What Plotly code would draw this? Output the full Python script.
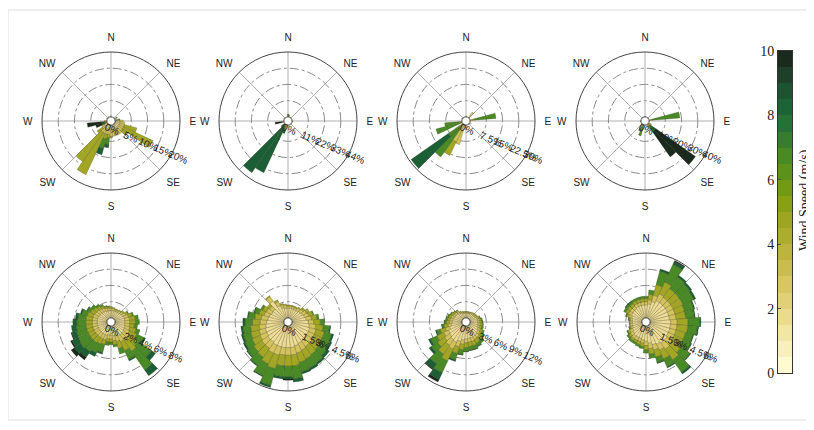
import plotly.graph_objects as go

W, H = 814, 430
OFF = 8  # page body margin of the browser

# ---------------- data ----------------
SPEED_CLASSES = ["0-2", "2-3.5", "3.5-5", "5-7", "7-9", "9-10"]
CLASS_COLORS = ["#EDDB96", "#D4C35C", "#A2A624", "#4A8A26", "#1C5E36", "#1A2A1C"]

COMPASS_DIRS = [0, 45, 90, 135, 180, 225, 270, 315]
COMPASS_LABELS = ["N", "NE", "E", "SE", "S", "SW", "W", "NW"]

DIRS36 = list(range(0, 360, 10))

# top row (sparse directions)
P1_DIRS = [0, 60, 80, 90, 100, 110, 120, 130, 140, 150, 160, 170, 180, 190, 200, 210, 220, 230, 240, 250, 260, 270, 300, 330]
P1_FREQ = [
    [0.4, 0, 0, 0, 0, 0], [0.3, 0, 0, 0.6, 0, 0], [0.3, 0, 0, 1.2, 0, 0], [1.5, 1.0, 0, 0, 0, 0],
    [1.5, 1.5, 0, 0, 0, 0], [1.5, 1.5, 4.0, 0, 0, 0], [1.5, 1.5, 10.0, 0, 0, 0], [1.5, 1.5, 2.0, 0, 0, 0],
    [1.5, 2.0, 0, 0, 0, 0], [1.5, 2.0, 0, 0, 0, 0], [1.5, 2.0, 0, 0, 0, 0], [1.5, 2.0, 0, 0, 0, 0],
    [1.5, 2.0, 0.5, 0, 0, 0], [1.5, 1.5, 1.0, 2.0, 1.0, 0], [1.5, 1.5, 1.5, 3.0, 2.0, 0], [1.5, 1.5, 14.0, 0, 0, 0],
    [1.5, 1.5, 11.0, 0, 0, 0], [1.0, 1.0, 2.0, 0, 0, 0], [1.0, 1.0, 0, 0, 0, 0], [0.3, 0.3, 0, 0, 1.0, 2.0],
    [0.3, 0.3, 0, 0, 1.0, 4.5], [0.5, 0.3, 0, 0, 0, 0], [0.4, 0, 0, 0, 0, 0], [0.4, 0, 0, 0, 0, 0],
]

P2_DIRS = [0, 10, 90, 180, 200, 210, 220, 230, 260, 300]
P2_FREQ = [
    [0.5, 0, 0, 1.5, 0, 0], [0.5, 0, 0, 1.0, 0, 0], [0.5, 0, 0, 0, 0, 0], [0.8, 0, 0, 0, 0, 0],
    [1.0, 1.0, 1.0, 1.0, 2.0, 0], [0.5, 0.5, 0.5, 0.5, 34.0, 0], [0.5, 0.5, 0.5, 0.5, 38.0, 0],
    [0.5, 0.5, 0, 0, 2.0, 0], [0.5, 0.5, 0, 0, 0, 5.0], [0.5, 0, 0, 0, 0, 0],
]

P3_DIRS = [0, 40, 80, 120, 180, 200, 210, 220, 230, 250, 260, 300]
P3_FREQ = [
    [0.5, 0, 0, 0, 0, 0], [0.5, 2.5, 0, 0, 0, 0], [0.5, 0.5, 1.0, 10.0, 0, 0], [0.8, 0, 0, 0, 0, 0],
    [1.0, 1.0, 0, 0, 0, 0], [3.0, 6.4, 0, 0, 0, 0], [0.7, 8.0, 7.0, 0, 0, 0], [0.7, 0.7, 1.0, 16.0, 0, 0],
    [0.7, 0.7, 0.7, 6.0, 21.0, 0], [0.5, 0.5, 0.5, 11.0, 0, 0], [0.5, 0.5, 0.5, 6.5, 0, 0], [0.5, 0, 0, 0, 0, 0],
]

P4_DIRS = [0, 80, 120, 130, 140, 150, 200, 210, 270]
P4_FREQ = [
    [0.5, 0, 0, 0, 0, 0], [0.5, 0.5, 1.0, 17.0, 0, 0], [1.0, 1.0, 0, 0, 0, 0],
    [0.5, 0.5, 0.5, 1.0, 3.0, 30.0], [0.5, 0.5, 0.5, 1.0, 3.0, 19.0], [1.0, 2.0, 0, 0, 0, 0],
    [0.5, 0.5, 0.5, 5.5, 0, 0], [0.5, 0.5, 0.5, 3.0, 0, 0], [0.5, 0, 0, 0, 0, 0],
]

# bottom row (36 directions, 10 degree bins)
P5_FREQ = [
    [0.9, 0.3, 0.2, 0, 0, 0], [0.9, 0.3, 0.1, 0, 0, 0], [0.9, 0.2, 0.1, 0, 0, 0], [0.9, 0.2, 0.1, 0, 0, 0],
    [0.9, 0.3, 0.1, 0, 0, 0], [1.0, 0.3, 0.2, 0, 0, 0], [1.1, 0.4, 0.3, 0.1, 0, 0], [1.2, 0.5, 0.5, 0.2, 0, 0],
    [1.2, 0.6, 0.7, 0.4, 0, 0], [1.2, 0.6, 0.7, 0.5, 0, 0], [1.2, 0.6, 0.6, 0.4, 0, 0], [1.3, 0.6, 0.8, 0.5, 0, 0],
    [1.3, 0.7, 1.0, 1.0, 0.2, 0], [1.4, 0.8, 1.4, 2.0, 0.6, 0], [1.4, 0.9, 1.6, 2.8, 0.9, 0], [1.4, 0.8, 1.2, 1.2, 0.2, 0],
    [1.3, 0.7, 0.9, 0.7, 0, 0], [1.2, 0.6, 0.5, 0.3, 0, 0], [1.1, 0.5, 0.4, 0.3, 0, 0], [1.1, 0.5, 0.4, 0.4, 0, 0],
    [1.2, 0.6, 0.6, 1.0, 0.2, 0], [1.2, 0.6, 0.7, 1.2, 0.5, 0], [1.2, 0.6, 0.8, 1.4, 0.8, 0.4], [1.2, 0.6, 0.8, 1.5, 0.9, 0.5],
    [1.2, 0.6, 0.8, 1.4, 0.8, 0.2], [1.2, 0.6, 0.8, 1.3, 0.6, 0.1], [1.2, 0.6, 0.8, 1.2, 0.6, 0], [1.2, 0.6, 0.8, 1.1, 0.5, 0],
    [1.2, 0.6, 0.8, 1.0, 0.3, 0], [1.2, 0.6, 0.7, 0.7, 0.2, 0], [1.1, 0.6, 0.6, 0.4, 0.1, 0], [1.1, 0.5, 0.5, 0.4, 0, 0],
    [1.0, 0.5, 0.4, 0.3, 0, 0], [1.0, 0.4, 0.3, 0.2, 0, 0], [0.9, 0.4, 0.2, 0.1, 0, 0], [0.9, 0.3, 0.2, 0.1, 0, 0],
]

P6_FREQ = [
    [0.9, 0.2, 0.1, 0, 0, 0], [0.9, 0.2, 0.1, 0, 0, 0], [0.9, 0.2, 0.1, 0, 0, 0], [0.9, 0.2, 0.1, 0, 0, 0],
    [0.9, 0.3, 0.1, 0, 0, 0], [1.0, 0.3, 0.2, 0, 0, 0], [1.1, 0.4, 0.3, 0, 0, 0], [1.2, 0.4, 0.4, 0.1, 0, 0],
    [1.3, 0.5, 0.5, 0.2, 0, 0], [1.5, 0.5, 0.6, 0.4, 0, 0], [1.6, 0.6, 0.7, 0.6, 0.1, 0], [1.7, 0.6, 0.8, 0.7, 0.2, 0],
    [1.7, 0.6, 0.8, 0.8, 0.2, 0], [1.8, 0.6, 0.8, 0.8, 0.3, 0], [1.8, 0.6, 0.9, 0.9, 0.2, 0], [1.8, 0.7, 0.9, 0.9, 0.2, 0],
    [1.9, 0.7, 0.9, 0.9, 0.2, 0], [2.0, 0.7, 1.0, 1.2, 0.3, 0], [2.0, 0.7, 1.0, 1.0, 0.2, 0.1], [2.0, 0.7, 1.0, 1.0, 0.2, 0],
    [2.0, 0.8, 1.3, 1.6, 0.2, 0], [2.0, 0.8, 1.1, 1.2, 0.1, 0], [1.9, 0.7, 1.0, 0.9, 0.1, 0], [1.9, 0.7, 0.9, 0.7, 0.1, 0],
    [1.8, 0.7, 0.8, 0.7, 0.2, 0], [1.8, 0.6, 0.8, 0.7, 0.2, 0], [1.7, 0.6, 0.8, 0.7, 0.2, 0], [1.6, 0.6, 0.7, 0.7, 0.2, 0],
    [1.5, 0.6, 0.6, 0.6, 0.1, 0], [1.4, 0.5, 0.5, 0.4, 0.1, 0], [1.3, 0.5, 0.4, 0.2, 0, 0], [1.3, 0.4, 0.3, 0, 0, 0],
    [2.0, 0.5, 0.1, 0, 0, 0], [1.3, 0.4, 0.2, 0, 0, 0], [1.0, 0.3, 0.1, 0, 0, 0], [0.9, 0.3, 0.1, 0, 0, 0],
]

P7_FREQ = [
    [0.9, 0.2, 0.1, 0, 0, 0], [0.9, 0.2, 0.1, 0, 0, 0], [0.9, 0.2, 0.1, 0, 0, 0], [1.0, 0.2, 0.1, 0, 0, 0],
    [1.0, 0.3, 0.1, 0, 0, 0], [1.0, 0.3, 0.2, 0, 0, 0], [1.1, 0.3, 0.2, 0, 0, 0], [1.3, 0.3, 0.3, 0.1, 0, 0],
    [1.4, 0.4, 0.3, 0.2, 0, 0], [1.4, 0.4, 0.4, 0.2, 0, 0], [1.5, 0.4, 0.4, 0.2, 0, 0], [1.5, 0.4, 0.4, 0.3, 0, 0],
    [1.7, 0.5, 0.5, 0.3, 0, 0], [1.9, 0.5, 0.6, 0.4, 0, 0], [2.1, 0.6, 0.7, 0.5, 0.1, 0], [2.2, 0.6, 0.8, 0.6, 0.1, 0],
    [2.3, 0.7, 0.8, 0.7, 0.1, 0], [2.3, 0.7, 0.8, 0.7, 0.1, 0], [2.4, 0.7, 0.9, 0.7, 0.1, 0], [2.6, 0.8, 1.0, 0.9, 0.1, 0],
    [3.0, 1.0, 1.3, 1.2, 0.3, 0], [3.4, 1.4, 2.4, 2.4, 1.4, 0.5], [3.2, 1.3, 2.0, 2.2, 1.1, 0.2], [3.0, 1.1, 1.6, 1.4, 0.5, 0],
    [2.8, 1.0, 1.4, 1.3, 0.4, 0], [2.4, 0.8, 1.0, 0.7, 0.2, 0], [2.0, 0.6, 0.7, 0.4, 0.1, 0], [1.8, 0.5, 0.6, 0.3, 0.1, 0],
    [1.7, 0.5, 0.5, 0.3, 0, 0], [1.6, 0.5, 0.4, 0.3, 0, 0], [1.5, 0.4, 0.4, 0.2, 0, 0], [1.4, 0.4, 0.3, 0.1, 0, 0],
    [1.3, 0.3, 0.3, 0.1, 0, 0], [1.1, 0.2, 0.2, 0, 0, 0], [1.0, 0.2, 0.1, 0, 0, 0], [0.9, 0.2, 0.1, 0, 0, 0],
]

P8_FREQ = [
    [1.2, 0.3, 0.3, 0.2, 0, 0], [1.3, 0.4, 0.5, 0.4, 0, 0], [1.6, 0.6, 1.0, 1.3, 0.2, 0], [1.8, 0.7, 1.2, 1.8, 0.3, 0.1],
    [1.8, 0.6, 1.0, 1.3, 0.2, 0], [1.8, 0.6, 1.0, 1.2, 0.2, 0], [1.8, 0.6, 1.0, 1.1, 0.2, 0], [1.8, 0.6, 0.9, 0.9, 0.1, 0],
    [1.8, 0.6, 0.9, 0.8, 0.1, 0], [1.9, 0.6, 1.0, 1.1, 0.1, 0], [1.9, 0.6, 1.0, 0.9, 0.1, 0], [1.9, 0.6, 0.9, 0.7, 0.1, 0],
    [1.9, 0.6, 0.9, 0.8, 0.1, 0], [2.0, 0.6, 1.0, 1.0, 0.1, 0], [2.0, 0.7, 1.2, 1.4, 0.2, 0], [1.9, 0.6, 0.9, 0.8, 0.1, 0],
    [1.8, 0.5, 0.7, 0.5, 0.1, 0], [1.6, 0.5, 0.5, 0.4, 0, 0], [1.4, 0.4, 0.4, 0.3, 0, 0], [1.3, 0.3, 0.3, 0.2, 0, 0],
    [1.2, 0.3, 0.3, 0.2, 0, 0], [1.2, 0.3, 0.2, 0.2, 0, 0], [1.2, 0.3, 0.2, 0.2, 0, 0], [1.1, 0.3, 0.2, 0.2, 0, 0],
    [1.0, 0.3, 0.2, 0.1, 0, 0], [0.9, 0.2, 0.1, 0.1, 0, 0], [0.9, 0.2, 0.1, 0, 0, 0], [0.9, 0.2, 0.1, 0, 0, 0],
    [0.9, 0.2, 0.1, 0.1, 0, 0], [1.0, 0.3, 0.2, 0.1, 0, 0], [1.1, 0.3, 0.3, 0.2, 0, 0], [1.1, 0.3, 0.3, 0.2, 0.1, 0],
    [1.1, 0.3, 0.3, 0.2, 0.1, 0], [1.2, 0.3, 0.3, 0.2, 0, 0], [1.2, 0.3, 0.3, 0.2, 0, 0], [1.2, 0.3, 0.3, 0.2, 0, 0],
]

RADIAL_TICKS = [
    [0, 5, 10, 15, 20], [0, 11, 22, 33, 44], [0, 7.5, 15, 22.5, 30], [0, 10, 20, 30, 40],
    [0, 2, 4, 6, 8], [0, 1.5, 3, 4.5, 6], [0, 3, 6, 9, 12], [0, 1.5, 3, 4.5, 6],
]
RADIAL_LABELS = [
    ["0%", "5%", "10%", "15%", "20%"], ["0%", "11%", "22%", "33%", "44%"],
    ["0%", "7.5%", "15%", "22.5%", "30%"], ["0%", "10%", "20%", "30%", "40%"],
    ["0%", "2%", "4%", "6%", "8%"], ["0%", "1.5%", "3%", "4.5%", "6%"],
    ["0%", "3%", "6%", "9%", "12%"], ["0%", "1.5%", "3%", "4.5%", "6%"],
]

# colorbar
CB_LEVELS = [0.25 + 0.5 * i for i in range(20)]
CB_COLORS = ["#FFFAD0", "#F8F0BA", "#F1E6A4", "#EADB8E", "#E2D078", "#D8C662", "#CABC4E",
             "#BCB43E", "#ACAC2E", "#9CA620", "#88A014", "#729A14", "#5C921C", "#488A24",
             "#367E2E", "#247236", "#1A6436", "#1C5432", "#1E4029", "#1A2A1C"]
CB_TICKS = [0, 2, 4, 6, 8, 10]

# ---------------- figure ----------------
PANELS = [
    (P1_DIRS, P1_FREQ), (P2_DIRS, P2_FREQ), (P3_DIRS, P3_FREQ), (P4_DIRS, P4_FREQ),
    (DIRS36, P5_FREQ), (DIRS36, P6_FREQ), (DIRS36, P7_FREQ), (DIRS36, P8_FREQ),
]
CENTERS = [(111, 121), (288, 121), (466, 121), (645, 121),
           (111, 322), (288, 322), (466, 322), (646, 322)]
RAD = 69
NBSP = "\u00a0"


def px(x):
    return (x - OFF) / W


def py(y):
    return 1 - (y - OFF) / H


def left_pad(label):
    # pad with non-breaking spaces so the centred label starts at its ring
    if label == "0%":
        return label
    return NBSP * (2 * len(label) - 1) + label


fig = go.Figure()
layout = dict(width=W, height=H, autosize=False,
              margin=dict(l=0, r=0, t=0, b=0, pad=0, autoexpand=False),
              paper_bgcolor="white", plot_bgcolor="white", showlegend=False)

for i, (dirs, freq) in enumerate(PANELS):
    name = "polar" if i == 0 else f"polar{i+1}"
    for k in range(len(SPEED_CLASSES)):
        fig.add_trace(go.Barpolar(
            r=[row[k] for row in freq], theta=dirs, width=10,
            marker=dict(color=CLASS_COLORS[k], line=dict(color="rgba(50,50,20,0.45)", width=0.5)),
            subplot=name, name=SPEED_CLASSES[k], hoverinfo="skip"))
    cx, cy = CENTERS[i]
    layout[name] = dict(
        domain=dict(x=[px(cx - RAD), px(cx + RAD)], y=[py(cy + RAD), py(cy - RAD)]),
        hole=0.06, bgcolor="white", barmode="stack",
        radialaxis=dict(range=[0, RADIAL_TICKS[i][-1]], tickvals=RADIAL_TICKS[i],
                        ticktext=[left_pad(t) for t in RADIAL_LABELS[i]],
                        angle=-23, tickangle=0, side="clockwise", showline=False, ticks="",
                        gridcolor="#8a8a8a", griddash="dashdot", gridwidth=0.8, layer="above traces",
                        tickfont=dict(family="Liberation Sans, Arial", size=10, color="#222")),
        angularaxis=dict(rotation=90, direction="clockwise", tickvals=COMPASS_DIRS, ticktext=COMPASS_LABELS,
                         showline=True, linecolor="#444", linewidth=1, gridcolor="#b0b0b0", gridwidth=0.8,
                         ticks="outside", ticklen=7, tickcolor="rgba(0,0,0,0)", layer="above traces",
                         tickfont=dict(family="Liberation Sans, Arial", size=10, color="#222")),
    )

# colorbar drawn as a heatmap strip
fig.add_trace(go.Heatmap(
    x=[0], y=CB_LEVELS, z=[[j] for j in range(20)], zmin=-0.5, zmax=19.5,
    colorscale=[[s, c] for j, c in enumerate(CB_COLORS) for s in (j / 20, (j + 1) / 20)],
    showscale=False, hoverinfo="skip", xaxis="x", yaxis="y"))
layout["xaxis"] = dict(domain=[px(778), px(792)], range=[-0.5, 0.5], showticklabels=False, ticks="",
                       showgrid=False, zeroline=False, showline=True, mirror=True, linecolor="#333", linewidth=1)
layout["yaxis"] = dict(domain=[py(373), py(51)], range=[0, 10], tickvals=CB_TICKS,
                       ticks="inside", ticklen=3, tickcolor="#555", showgrid=False, zeroline=False,
                       showline=True, mirror=True, linecolor="#333", linewidth=1,
                       tickfont=dict(family="Liberation Serif, Times New Roman", size=14, color="#222"))
layout["annotations"] = [dict(text="Wind Speed (m/s)", x=px(805), y=py(200), xref="paper", yref="paper",
                              textangle=-90, showarrow=False, xanchor="center", yanchor="middle",
                              font=dict(family="Liberation Serif, Times New Roman", size=14, color="#222"))]
layout["shapes"] = [dict(type="rect", xref="paper", yref="paper", x0=px(8), x1=1.05, y0=py(420), y1=py(10),
                         line=dict(color="#dddddd", width=1), fillcolor="rgba(0,0,0,0)", layer="below")]

fig.update_layout(**layout)
fig.write_html("out.html")
